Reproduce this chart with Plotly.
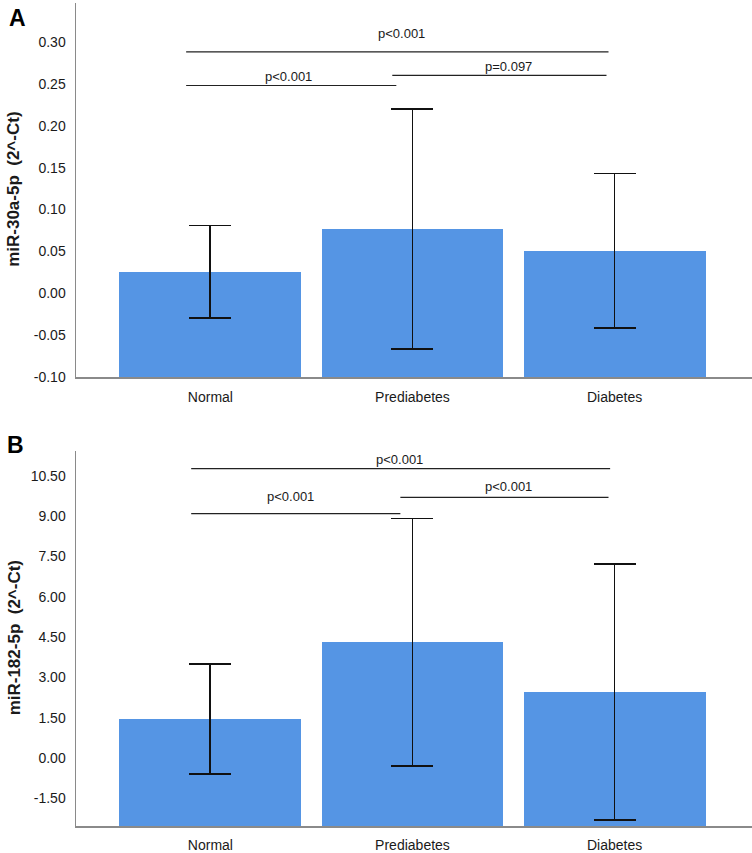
import plotly.graph_objects as go

# ---------------- data ----------------
categories = ["Normal", "Prediabetes", "Diabetes"]
cat_pos = [0, 1, 2]

mir30_mean = [0.026, 0.077, 0.051]
mir30_err = [0.055, 0.143, 0.092]

mir182_mean = [1.45, 4.30, 2.45]
mir182_err = [2.05, 4.61, 4.77]

a_range = [-0.10, 0.3464]
b_range = [-2.53, 11.43]

a_ticks = [-0.10, -0.05, 0.00, 0.05, 0.10, 0.15, 0.20, 0.25, 0.30]
a_ticktext = ["-0.10", "-0.05", "0.00", "0.05", "0.10", "0.15", "0.20", "0.25", "0.30"]
b_ticks = [-1.5, 0.0, 1.5, 3.0, 4.5, 6.0, 7.5, 9.0, 10.5]
b_ticktext = ["-1.50", "0.00", "1.50", "3.00", "4.50", "6.00", "7.50", "9.00", "10.50"]

# significance brackets (category units / data units)
a_br_x0 = [-0.12, -0.12, 0.90]
a_br_x1 = [1.97, 0.92, 1.96]
a_br_y = [0.288, 0.248, 0.260]
a_br_label = ["p<0.001", "p<0.001", "p=0.097"]
a_txt_x = [0.948, 0.386, 1.474]
a_txt_y = [0.310, 0.2586, 0.2711]

b_br_x0 = [-0.095, -0.095, 0.94]
b_br_x1 = [1.978, 0.94, 1.97]
b_br_y = [10.77, 9.09, 9.70]
b_br_label = ["p<0.001", "p<0.001", "p<0.001"]
b_txt_x = [0.938, 0.396, 1.477]
b_txt_y = [11.12, 9.73, 10.10]

# ---------------- style ----------------
FONT = "Liberation Sans, Arial, sans-serif"
BAR = "#5595E4"
AXIS = "#8a8a8a"
TXT = "#1a1a1a"

fig = go.Figure()

# bars are drawn from the bottom of the value axis (SPSS style)
for mean, err, rng, xa, ya in [(mir30_mean, mir30_err, a_range, "x", "y"),
                               (mir182_mean, mir182_err, b_range, "x2", "y2")]:
    base = rng[0]
    fig.add_trace(go.Bar(
        x=cat_pos, y=[m - base for m in mean], base=base, width=0.9,
        xaxis=xa, yaxis=ya,
        marker=dict(color=BAR, line=dict(width=0)),
        error_y=dict(type="data", array=err, symmetric=True,
                     color="#111111", thickness=1.8, width=21),
        showlegend=False, hoverinfo="skip",
    ))

shapes = []
annotations = []
for x0s, x1s, ys, labs, txs, tys, xr, yr in [
    (a_br_x0, a_br_x1, a_br_y, a_br_label, a_txt_x, a_txt_y, "x", "y"),
    (b_br_x0, b_br_x1, b_br_y, b_br_label, b_txt_x, b_txt_y, "x2", "y2"),
]:
    for x0, x1, yv, lab, tx, ty in zip(x0s, x1s, ys, labs, txs, tys):
        shapes.append(dict(type="line", xref=xr, yref=yr, x0=x0, x1=x1, y0=yv, y1=yv,
                           line=dict(color="#222222", width=1.2)))
        annotations.append(dict(xref=xr, yref=yr, x=tx, y=ty, text=lab, showarrow=False,
                                xanchor="center", yanchor="middle",
                                font=dict(family=FONT, size=13, color=TXT)))

# panel letters
annotations.append(dict(xref="paper", yref="paper", x=-0.087, y=0.982, text="<b>A</b>",
                        showarrow=False, xanchor="center", yanchor="middle",
                        font=dict(family=FONT, size=23, color="#000000")))
annotations.append(dict(xref="paper", yref="paper", x=-0.089, y=0.463, text="<b>B</b>",
                        showarrow=False, xanchor="center", yanchor="middle",
                        font=dict(family=FONT, size=23, color="#000000")))
# y-axis titles
annotations.append(dict(xref="paper", yref="paper", x=-0.0917, y=0.773,
                        text="<b>miR-30a-5p&nbsp;&nbsp;(2^-Ct)</b>", textangle=-90,
                        showarrow=False, xanchor="center", yanchor="middle",
                        font=dict(family=FONT, size=17, color=TXT)))
annotations.append(dict(xref="paper", yref="paper", x=-0.0917, y=0.228,
                        text="<b>miR-182-5p&nbsp;&nbsp;(2^-Ct)</b>", textangle=-90,
                        showarrow=False, xanchor="center", yanchor="middle",
                        font=dict(family=FONT, size=17, color=TXT)))

xcommon = dict(range=[-0.665, 2.68], tickvals=cat_pos, ticktext=categories,
               showline=True, linecolor=AXIS, linewidth=1.5, showgrid=False,
               zeroline=False, ticks="", ticklabelstandoff=6,
               tickfont=dict(family=FONT, size=14, color=TXT), fixedrange=True)
ycommon = dict(showline=True, linecolor=AXIS, linewidth=1.5, showgrid=False,
               zeroline=False, ticks="", ticklabelstandoff=6,
               tickfont=dict(family=FONT, size=14, color=TXT), fixedrange=True)

fig.update_layout(
    width=752, height=853,
    margin=dict(l=76, r=0, t=3, b=23),
    paper_bgcolor="white", plot_bgcolor="white",
    xaxis=dict(**xcommon, anchor="y", domain=[0, 1]),
    yaxis=dict(**ycommon, anchor="x", domain=[0.5453, 1.0], range=a_range,
               tickvals=a_ticks, ticktext=a_ticktext),
    xaxis2=dict(**xcommon, anchor="y2", domain=[0, 1]),
    yaxis2=dict(**ycommon, anchor="x2", domain=[0.0, 0.4559], range=b_range,
                tickvals=b_ticks, ticktext=b_ticktext),
    shapes=shapes, annotations=annotations,
    bargap=0,
)

fig.write_html("out.html",
               config={"displayModeBar": False, "staticPlot": True},
               post_script="document.body.style.margin='0';document.body.style.overflow='hidden';")
